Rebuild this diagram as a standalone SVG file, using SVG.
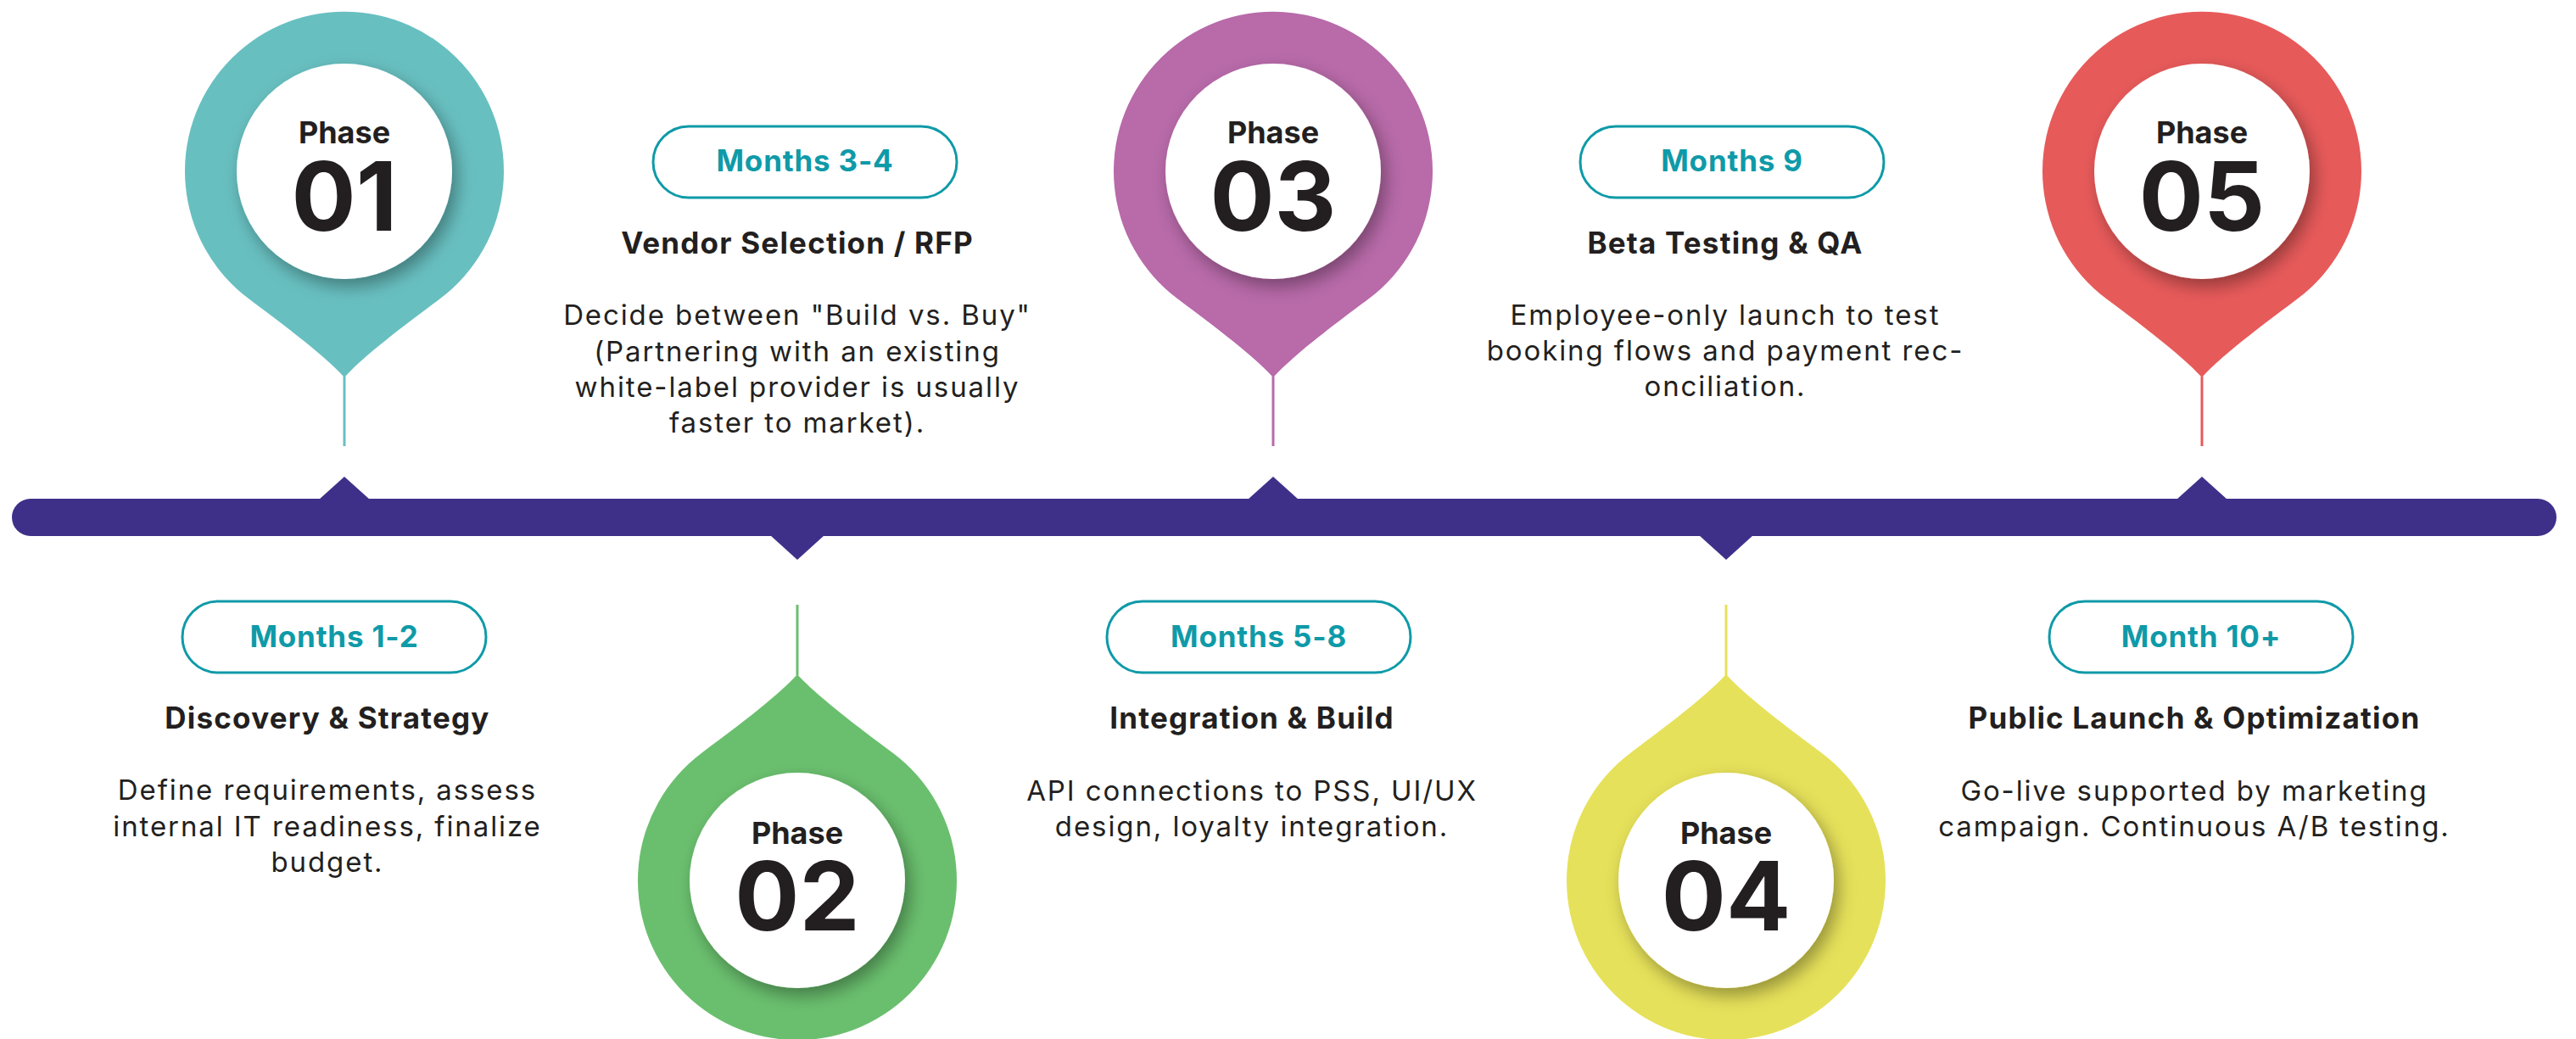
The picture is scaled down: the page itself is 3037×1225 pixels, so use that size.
<svg xmlns="http://www.w3.org/2000/svg" width="3037" height="1225" viewBox="0 0 3037 1225">
  <defs>
    <!-- map-pin outline centred on (0,0), tip pointing down -->
    <path id="pin" d="M0,243 C-25,215 -85,171 -113,150 A188,188 0 1 1 113,150 C85,171 25,215 0,243 Z"/>
    <filter id="lift" x="-40%" y="-40%" width="180%" height="180%">
      <feDropShadow dx="6" dy="9" stdDeviation="10" flood-color="#000" flood-opacity="0.35"/>
    </filter>
  </defs>
  <style>
    text { font-family: Inter, "Liberation Sans", sans-serif; text-anchor: middle; fill: #231F20; }
    .ph { font-size: 36px; font-weight: 700; }
    .num { font-size: 113px; font-weight: 700; }
    .disc { fill: #fff; filter: url(#lift); }
    .pill { fill: #fff; stroke: #0F9AA8; stroke-width: 3; }
    .when { font-size: 35px; font-weight: 700; fill: #0F9AA8; letter-spacing: 0.8px; }
    .title { font-size: 35px; font-weight: 700; letter-spacing: 1.2px; }
    .body { font-size: 33px; font-weight: 400; letter-spacing: 1.9px; }
    .stem { stroke-width: 3; fill: none; }
  </style>

  <rect width="3037" height="1225" fill="#fff"/>

  <!-- timeline bar with markers -->
  <g id="timeline" fill="#3E3089">
    <rect x="14" y="588" width="3000" height="44" rx="22"/>
    <polygon points="376,589 406,562 436,589"/>
    <polygon points="1471,589 1501,562 1531,589"/>
    <polygon points="2566,589 2596,562 2626,589"/>
    <polygon points="908,631 940,660 972,631"/>
    <polygon points="2003,631 2035,660 2067,631"/>
  </g>

  <!-- stems from pin tips toward the bar -->
  <g id="connectors" class="stem">
    <line x1="406" y1="444" x2="406" y2="526" stroke="#68BFC0"/>
    <line x1="940" y1="713" x2="940" y2="796" stroke="#6ABF6E"/>
    <line x1="1501" y1="444" x2="1501" y2="526" stroke="#B86AA9"/>
    <line x1="2035" y1="713" x2="2035" y2="796" stroke="#E6E15A"/>
    <line x1="2596" y1="444" x2="2596" y2="526" stroke="#E75A5A"/>
  </g>

  <!-- Phase 01 -->
  <g id="phase-01">
    <use href="#pin" transform="translate(406,202)" fill="#68BFC0"/>
    <circle class="disc" cx="406" cy="202" r="127"/>
    <text class="ph" x="406" y="169">Phase</text>
    <text class="num" x="406" y="272">01</text>
    <rect class="pill" x="215" y="709" width="358" height="84" rx="42"/>
    <text class="when" x="394" y="763">Months 1-2</text>
    <text class="title" x="386" y="859">Discovery &amp; Strategy</text>
    <text class="body" x="386" y="943">Define requirements, assess</text>
    <text class="body" x="386" y="986">internal IT readiness, finalize</text>
    <text class="body" x="386" y="1028">budget.</text>
  </g>

  <!-- Phase 02 -->
  <g id="phase-02">
    <use href="#pin" transform="translate(940,1038) scale(1,-1)" fill="#6ABF6E"/>
    <circle class="disc" cx="940" cy="1038" r="127"/>
    <text class="ph" x="940" y="995">Phase</text>
    <text class="num" x="940" y="1097">02</text>
    <rect class="pill" x="770" y="149" width="358" height="84" rx="42"/>
    <text class="when" x="949" y="202">Months 3-4</text>
    <text class="title" x="940" y="299">Vendor Selection / RFP</text>
    <text class="body" x="940" y="383">Decide between "Build vs. Buy"</text>
    <text class="body" x="940" y="426">(Partnering with an existing</text>
    <text class="body" x="940" y="468">white-label provider is usually</text>
    <text class="body" x="940" y="510">faster to market).</text>
  </g>

  <!-- Phase 03 -->
  <g id="phase-03">
    <use href="#pin" transform="translate(1501,202)" fill="#B86AA9"/>
    <circle class="disc" cx="1501" cy="202" r="127"/>
    <text class="ph" x="1501" y="169">Phase</text>
    <text class="num" x="1501" y="272">03</text>
    <rect class="pill" x="1305" y="709" width="358" height="84" rx="42"/>
    <text class="when" x="1484" y="763">Months 5-8</text>
    <text class="title" x="1476" y="859">Integration &amp; Build</text>
    <text class="body" x="1476" y="944">API connections to PSS, UI/UX</text>
    <text class="body" x="1476" y="986">design, loyalty integration.</text>
  </g>

  <!-- Phase 04 -->
  <g id="phase-04">
    <use href="#pin" transform="translate(2035,1038) scale(1,-1)" fill="#E6E15A"/>
    <circle class="disc" cx="2035" cy="1038" r="127"/>
    <text class="ph" x="2035" y="995">Phase</text>
    <text class="num" x="2035" y="1097">04</text>
    <rect class="pill" x="1863" y="149" width="358" height="84" rx="42"/>
    <text class="when" x="2042" y="202">Months 9</text>
    <text class="title" x="2034" y="299">Beta Testing &amp; QA</text>
    <text class="body" x="2034" y="383">Employee-only launch to test</text>
    <text class="body" x="2034" y="425">booking flows and payment rec-</text>
    <text class="body" x="2034" y="467">onciliation.</text>
  </g>

  <!-- Phase 05 -->
  <g id="phase-05">
    <use href="#pin" transform="translate(2596,202)" fill="#E75A5A"/>
    <circle class="disc" cx="2596" cy="202" r="127"/>
    <text class="ph" x="2596" y="169">Phase</text>
    <text class="num" x="2596" y="272">05</text>
    <rect class="pill" x="2416" y="709" width="358" height="84" rx="42"/>
    <text class="when" x="2595" y="763">Month 10+</text>
    <text class="title" x="2587" y="859">Public Launch &amp; Optimization</text>
    <text class="body" x="2587" y="944">Go-live supported by marketing</text>
    <text class="body" x="2587" y="986">campaign. Continuous A/B testing.</text>
  </g>
</svg>
